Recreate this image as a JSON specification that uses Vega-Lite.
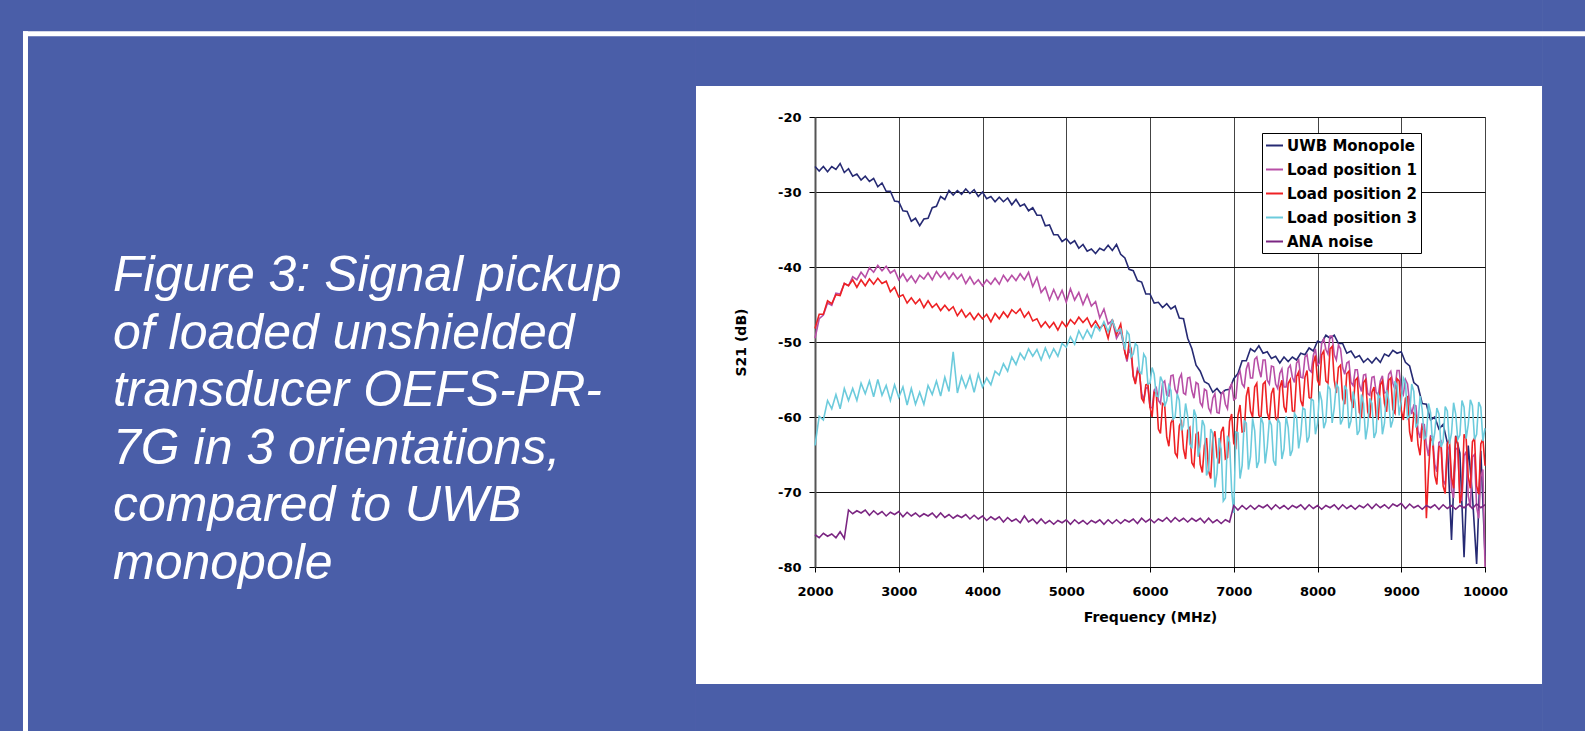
{
"$schema": "https://vega.github.io/schema/vega-lite/v6.json",
"width": 670,
"height": 450,
"autosize": {"type": "none"},
"padding": {"left": 815, "top": 117, "right": 100, "bottom": 164},
"background": "white",
"data": {"values": [{}]},
"datasets": {
"names": [{"k": "u", "name": "UWB Monopole"}, {"k": "p1", "name": "Load position 1"}, {"k": "p2", "name": "Load position 2"}, {"k": "p3", "name": "Load position 3"}, {"k": "n", "name": "ANA noise"}],
"spectra": [
{"f":2000,"u":-26.6,"p1":-49.5,"p2":-48.2,"p3":-63.8,"n":-75.7},
{"f":2050,"u":-27.2,"p1":-46.9,"p2":-46.3,"p3":-59.9,"n":-76.1},
{"f":2100,"u":-26.6,"p1":-46.4,"p2":-46.3,"p3":-60.4,"n":-75.5},
{"f":2150,"u":-27.3,"p1":-44.8,"p2":-44.5,"p3":-57.8,"n":-75.9},
{"f":2200,"u":-26.6,"p1":-45.1,"p2":-44.9,"p3":-58.9,"n":-75.6},
{"f":2250,"u":-27.0,"p1":-43.5,"p2":-43.7,"p3":-57.0,"n":-76.1},
{"f":2300,"u":-26.2,"p1":-43.6,"p2":-43.8,"p3":-58.9,"n":-75.3},
{"f":2350,"u":-27.4,"p1":-42.2,"p2":-42.2,"p3":-56.2,"n":-76.2},
{"f":2400,"u":-26.9,"p1":-42.5,"p2":-42.5,"p3":-57.8,"n":-72.4},
{"f":2450,"u":-27.9,"p1":-41.3,"p2":-41.7,"p3":-56.2,"n":-72.9},
{"f":2500,"u":-27.6,"p1":-41.7,"p2":-42.7,"p3":-57.8,"n":-72.5},
{"f":2550,"u":-28.4,"p1":-40.7,"p2":-41.7,"p3":-55.5,"n":-72.8},
{"f":2600,"u":-27.9,"p1":-41.4,"p2":-42.5,"p3":-56.9,"n":-72.4},
{"f":2650,"u":-28.6,"p1":-40.1,"p2":-41.6,"p3":-55.2,"n":-73.1},
{"f":2700,"u":-28.2,"p1":-40.7,"p2":-42.3,"p3":-57.3,"n":-72.5},
{"f":2750,"u":-29.3,"p1":-39.8,"p2":-41.5,"p3":-55.0,"n":-73.0},
{"f":2800,"u":-28.8,"p1":-40.5,"p2":-42.2,"p3":-57.1,"n":-72.6},
{"f":2850,"u":-29.9,"p1":-39.9,"p2":-41.9,"p3":-55.8,"n":-73.2},
{"f":2900,"u":-29.9,"p1":-40.8,"p2":-43.3,"p3":-57.8,"n":-72.7},
{"f":2950,"u":-31.2,"p1":-40.4,"p2":-42.7,"p3":-55.7,"n":-73.0},
{"f":3000,"u":-31.3,"p1":-41.7,"p2":-44.0,"p3":-57.4,"n":-72.6},
{"f":3050,"u":-32.5,"p1":-40.9,"p2":-43.7,"p3":-56.0,"n":-73.3},
{"f":3100,"u":-32.6,"p1":-41.9,"p2":-44.8,"p3":-58.4,"n":-72.7},
{"f":3150,"u":-33.9,"p1":-41.2,"p2":-44.1,"p3":-56.2,"n":-73.2},
{"f":3200,"u":-33.5,"p1":-42.1,"p2":-44.9,"p3":-58.3,"n":-72.8},
{"f":3250,"u":-34.5,"p1":-41.1,"p2":-44.3,"p3":-56.7,"n":-73.3},
{"f":3300,"u":-33.6,"p1":-41.6,"p2":-45.4,"p3":-58.3,"n":-72.9},
{"f":3350,"u":-33.5,"p1":-40.8,"p2":-44.5,"p3":-55.8,"n":-73.2},
{"f":3400,"u":-32.1,"p1":-41.7,"p2":-45.4,"p3":-57.0,"n":-72.8},
{"f":3450,"u":-31.9,"p1":-40.6,"p2":-44.9,"p3":-55.2,"n":-73.4},
{"f":3500,"u":-30.6,"p1":-41.4,"p2":-45.8,"p3":-57.2,"n":-72.8},
{"f":3550,"u":-31.0,"p1":-40.7,"p2":-45.1,"p3":-54.7,"n":-73.4},
{"f":3600,"u":-29.8,"p1":-41.6,"p2":-45.8,"p3":-56.6,"n":-73.0},
{"f":3650,"u":-30.4,"p1":-40.8,"p2":-45.3,"p3":-51.3,"n":-73.5},
{"f":3700,"u":-29.8,"p1":-41.6,"p2":-46.5,"p3":-56.8,"n":-73.1},
{"f":3750,"u":-30.3,"p1":-41.0,"p2":-45.7,"p3":-54.6,"n":-73.4},
{"f":3800,"u":-29.6,"p1":-42.2,"p2":-46.7,"p3":-56.1,"n":-73.0},
{"f":3850,"u":-30.2,"p1":-41.3,"p2":-46.1,"p3":-54.5,"n":-73.6},
{"f":3900,"u":-29.7,"p1":-42.3,"p2":-47.0,"p3":-56.7,"n":-73.1},
{"f":3950,"u":-30.6,"p1":-41.7,"p2":-46.2,"p3":-54.3,"n":-73.6},
{"f":4000,"u":-30.0,"p1":-42.5,"p2":-46.9,"p3":-56.0,"n":-73.2},
{"f":4050,"u":-30.9,"p1":-41.7,"p2":-46.3,"p3":-54.8,"n":-73.8},
{"f":4100,"u":-30.6,"p1":-42.3,"p2":-47.3,"p3":-55.7,"n":-73.3},
{"f":4150,"u":-31.3,"p1":-41.5,"p2":-46.2,"p3":-53.9,"n":-73.7},
{"f":4200,"u":-30.7,"p1":-42.3,"p2":-46.9,"p3":-54.4,"n":-73.3},
{"f":4250,"u":-31.3,"p1":-41.1,"p2":-46.0,"p3":-52.9,"n":-74.0},
{"f":4300,"u":-30.8,"p1":-41.9,"p2":-46.7,"p3":-53.9,"n":-73.4},
{"f":4350,"u":-31.7,"p1":-41.1,"p2":-45.7,"p3":-52.0,"n":-73.9},
{"f":4400,"u":-31.0,"p1":-41.8,"p2":-46.2,"p3":-53.0,"n":-73.6},
{"f":4450,"u":-31.9,"p1":-40.9,"p2":-45.6,"p3":-51.5,"n":-74.1},
{"f":4500,"u":-31.6,"p1":-41.7,"p2":-46.7,"p3":-52.3,"n":-73.2},
{"f":4550,"u":-32.5,"p1":-40.7,"p2":-46.0,"p3":-50.9,"n":-74.0},
{"f":4600,"u":-32.1,"p1":-42.6,"p2":-47.2,"p3":-51.9,"n":-73.6},
{"f":4650,"u":-33.1,"p1":-41.4,"p2":-46.9,"p3":-51.0,"n":-74.2},
{"f":4700,"u":-33.1,"p1":-43.4,"p2":-48.0,"p3":-52.4,"n":-73.6},
{"f":4750,"u":-34.5,"p1":-42.7,"p2":-47.3,"p3":-50.8,"n":-74.2},
{"f":4800,"u":-34.4,"p1":-44.4,"p2":-48.1,"p3":-52.1,"n":-73.8},
{"f":4850,"u":-35.7,"p1":-43.0,"p2":-47.4,"p3":-50.9,"n":-74.3},
{"f":4900,"u":-35.7,"p1":-44.3,"p2":-48.4,"p3":-51.9,"n":-73.8},
{"f":4950,"u":-36.6,"p1":-43.1,"p2":-47.3,"p3":-50.2,"n":-74.1},
{"f":5000,"u":-36.2,"p1":-44.7,"p2":-48.0,"p3":-50.7,"n":-73.7},
{"f":5050,"u":-36.9,"p1":-42.9,"p2":-47.0,"p3":-49.3,"n":-74.3},
{"f":5100,"u":-36.5,"p1":-44.4,"p2":-47.6,"p3":-50.3,"n":-73.7},
{"f":5150,"u":-37.5,"p1":-43.4,"p2":-46.7,"p3":-48.5,"n":-74.2},
{"f":5200,"u":-37.0,"p1":-45.0,"p2":-47.4,"p3":-49.6,"n":-73.8},
{"f":5250,"u":-37.9,"p1":-43.7,"p2":-46.8,"p3":-48.4,"n":-74.3},
{"f":5300,"u":-37.6,"p1":-45.2,"p2":-48.0,"p3":-49.4,"n":-73.8},
{"f":5350,"u":-38.2,"p1":-44.6,"p2":-47.2,"p3":-47.8,"n":-74.1},
{"f":5400,"u":-37.5,"p1":-46.8,"p2":-48.2,"p3":-48.5,"n":-73.7},
{"f":5450,"u":-37.8,"p1":-45.6,"p2":-47.6,"p3":-47.3,"n":-74.3},
{"f":5500,"u":-37.1,"p1":-47.6,"p2":-49.5,"p3":-48.6,"n":-73.7},
{"f":5550,"u":-37.8,"p1":-47.1,"p2":-47.0,"p3":-47.1,"n":-74.2},
{"f":5600,"u":-37.0,"p1":-49.5,"p2":-49.0,"p3":-48.6,"n":-73.7},
{"f":5650,"u":-38.3,"p1":-48.5,"p2":-47.6,"p3":-48.3,"n":-74.2},
{"f":5700,"u":-38.8,"p1":-51.3,"p2":-51.4,"p3":-51.0,"n":-73.7},
{"f":5750,"u":-40.3,"p1":-51.0,"p2":-50.2,"p3":-49.0,"n":-74.0},
{"f":5800,"u":-40.5,"p1":-54.6,"p2":-54.5,"p3":-51.6,"n":-73.6},
{"f":5850,"u":-41.8,"p1":-53.6,"p2":-53.9,"p3":-50.5,"n":-74.2},
{"f":5900,"u":-42.0,"p1":-56.8,"p2":-57.5,"p3":-54.2,"n":-73.5},
{"f":5950,"u":-43.6,"p1":-56.2,"p2":-55.7,"p3":-52.1,"n":-74.0},
{"f":6000,"u":-43.6,"p1":-58.7,"p2":-58.7,"p3":-55.5,"n":-73.6},
{"f":6050,"u":-44.8,"p1":-56.4,"p2":-56.7,"p3":-54.3,"n":-74.1},
{"f":6100,"u":-44.7,"p1":-57.8,"p2":-61.6,"p3":-57.3,"n":-73.6},
{"f":6150,"u":-45.4,"p1":-55.5,"p2":-58.2,"p3":-55.3,"n":-73.9},
{"f":6200,"u":-44.9,"p1":-57.1,"p2":-62.7,"p3":-57.8,"n":-73.4},
{"f":6250,"u":-45.6,"p1":-54.5,"p2":-60.8,"p3":-56.5,"n":-74.0},
{"f":6300,"u":-45.2,"p1":-56.3,"p2":-64.8,"p3":-60.0,"n":-73.4},
{"f":6350,"u":-46.8,"p1":-54.9,"p2":-61.2,"p3":-57.8,"n":-73.9},
{"f":6400,"u":-46.9,"p1":-56.8,"p2":-64.3,"p3":-61.1,"n":-73.5},
{"f":6450,"u":-49.5,"p1":-54.8,"p2":-61.8,"p3":-59.9,"n":-74.0},
{"f":6500,"u":-50.9,"p1":-56.5,"p2":-66.1,"p3":-64.2,"n":-73.5},
{"f":6550,"u":-53.1,"p1":-55.4,"p2":-62.3,"p3":-59.9,"n":-73.9},
{"f":6600,"u":-53.9,"p1":-58.1,"p2":-66.3,"p3":-63.9,"n":-73.5},
{"f":6650,"u":-55.3,"p1":-56.3,"p2":-63.8,"p3":-61.2,"n":-74.1},
{"f":6700,"u":-55.6,"p1":-58.8,"p2":-67.2,"p3":-67.0,"n":-73.5},
{"f":6750,"u":-56.7,"p1":-57.5,"p2":-62.9,"p3":-62.2,"n":-74.1},
{"f":6800,"u":-56.2,"p1":-59.4,"p2":-65.3,"p3":-67.5,"n":-73.7},
{"f":6850,"u":-56.9,"p1":-57.0,"p2":-62.0,"p3":-64.3,"n":-74.2},
{"f":6900,"u":-56.4,"p1":-58.3,"p2":-65.6,"p3":-70.8,"n":-73.7},
{"f":6950,"u":-56.3,"p1":-56.1,"p2":-60.6,"p3":-63.4,"n":-74.0},
{"f":7000,"u":-54.9,"p1":-57.7,"p2":-63.5,"p3":-72.8,"n":-71.8},
{"f":7050,"u":-54.2,"p1":-54.5,"p2":-59.8,"p3":-62.1,"n":-72.4},
{"f":7100,"u":-52.5,"p1":-55.6,"p2":-62.0,"p3":-66.5,"n":-71.8},
{"f":7150,"u":-52.5,"p1":-53.6,"p2":-57.2,"p3":-60.8,"n":-72.3},
{"f":7200,"u":-50.9,"p1":-54.8,"p2":-59.2,"p3":-65.3,"n":-71.8},
{"f":7250,"u":-51.3,"p1":-52.3,"p2":-56.0,"p3":-61.8,"n":-72.3},
{"f":7300,"u":-50.5,"p1":-53.6,"p2":-59.8,"p3":-65.9,"n":-71.8},
{"f":7350,"u":-51.5,"p1":-52.4,"p2":-55.6,"p3":-60.9,"n":-72.1},
{"f":7400,"u":-51.3,"p1":-55.1,"p2":-59.4,"p3":-64.0,"n":-71.7},
{"f":7450,"u":-52.2,"p1":-53.2,"p2":-56.9,"p3":-61.1,"n":-72.3},
{"f":7500,"u":-51.9,"p1":-55.6,"p2":-60.2,"p3":-66.5,"n":-71.7},
{"f":7550,"u":-52.8,"p1":-54.2,"p2":-56.1,"p3":-60.8,"n":-72.2},
{"f":7600,"u":-52.0,"p1":-56.0,"p2":-58.6,"p3":-64.3,"n":-71.8},
{"f":7650,"u":-52.6,"p1":-53.5,"p2":-55.5,"p3":-61.4,"n":-72.3},
{"f":7700,"u":-52.0,"p1":-54.7,"p2":-59.2,"p3":-64.4,"n":-71.8},
{"f":7750,"u":-52.4,"p1":-52.8,"p2":-54.6,"p3":-60.0,"n":-72.1},
{"f":7800,"u":-51.5,"p1":-54.7,"p2":-57.8,"p3":-62.4,"n":-71.7},
{"f":7850,"u":-51.7,"p1":-52.0,"p2":-54.7,"p3":-59.0,"n":-72.3},
{"f":7900,"u":-50.8,"p1":-53.7,"p2":-57.4,"p3":-62.6,"n":-71.7},
{"f":7950,"u":-51.2,"p1":-51.8,"p2":-52.9,"p3":-57.8,"n":-72.2},
{"f":8000,"u":-49.9,"p1":-53.1,"p2":-55.1,"p3":-60.9,"n":-71.8},
{"f":8050,"u":-50.1,"p1":-50.2,"p2":-51.7,"p3":-57.8,"n":-72.3},
{"f":8100,"u":-49.1,"p1":-51.0,"p2":-55.2,"p3":-60.6,"n":-71.8},
{"f":8150,"u":-49.5,"p1":-49.2,"p2":-50.9,"p3":-56.3,"n":-72.1},
{"f":8200,"u":-49.1,"p1":-51.7,"p2":-55.1,"p3":-58.8,"n":-71.7},
{"f":8250,"u":-50.2,"p1":-50.4,"p2":-53.4,"p3":-56.1,"n":-72.3},
{"f":8300,"u":-50.2,"p1":-53.4,"p2":-57.5,"p3":-60.3,"n":-71.7},
{"f":8350,"u":-51.5,"p1":-52.8,"p2":-54.2,"p3":-56.4,"n":-72.2},
{"f":8400,"u":-51.2,"p1":-55.4,"p2":-57.6,"p3":-60.5,"n":-71.8},
{"f":8450,"u":-52.1,"p1":-53.7,"p2":-55.1,"p3":-58.2,"n":-72.3},
{"f":8500,"u":-51.8,"p1":-55.7,"p2":-59.4,"p3":-61.8,"n":-71.8},
{"f":8550,"u":-52.7,"p1":-54.4,"p2":-55.4,"p3":-58.2,"n":-72.1},
{"f":8600,"u":-52.2,"p1":-56.9,"p2":-59.3,"p3":-61.2,"n":-71.6},
{"f":8650,"u":-52.8,"p1":-54.7,"p2":-56.7,"p3":-58.2,"n":-72.2},
{"f":8700,"u":-52.1,"p1":-56.7,"p2":-59.9,"p3":-62.0,"n":-71.6},
{"f":8750,"u":-52.7,"p1":-55.2,"p2":-55.7,"p3":-57.5,"n":-72.1},
{"f":8800,"u":-51.6,"p1":-56.8,"p2":-58.2,"p3":-60.8,"n":-71.7},
{"f":8850,"u":-51.9,"p1":-54.3,"p2":-55.1,"p3":-57.7,"n":-72.2},
{"f":8900,"u":-51.1,"p1":-55.5,"p2":-59.0,"p3":-60.4,"n":-71.6},
{"f":8950,"u":-51.5,"p1":-53.8,"p2":-54.9,"p3":-55.8,"n":-71.9},
{"f":9000,"u":-51.3,"p1":-56.3,"p2":-59.1,"p3":-57.9,"n":-71.5},
{"f":9050,"u":-52.7,"p1":-55.0,"p2":-57.5,"p3":-55.4,"n":-72.2},
{"f":9100,"u":-53.2,"p1":-58.2,"p2":-62.0,"p3":-59.8,"n":-71.6},
{"f":9150,"u":-55.4,"p1":-58.4,"p2":-59.5,"p3":-56.6,"n":-72.1},
{"f":9200,"u":-55.9,"p1":-61.8,"p2":-63.7,"p3":-60.8,"n":-71.8},
{"f":9250,"u":-58.2,"p1":-60.9,"p2":-61.3,"p3":-59.0,"n":-72.3},
{"f":9300,"u":-58.3,"p1":-63.7,"p2":-73.5,"p3":-62.6,"n":-71.8},
{"f":9350,"u":-60.4,"p1":-62.5,"p2":-62.8,"p3":-59.4,"n":-72.1},
{"f":9400,"u":-60.0,"p1":-66.3,"p2":-67.8,"p3":-62.1,"n":-71.7},
{"f":9450,"u":-61.6,"p1":-63.4,"p2":-64.0,"p3":-59.6,"n":-72.3},
{"f":9500,"u":-61.0,"p1":-68.5,"p2":-69.2,"p3":-63.3,"n":-71.7},
{"f":9550,"u":-63.4,"p1":-64.4,"p2":-63.6,"p3":-59.2,"n":-72.2},
{"f":9600,"u":-76.4,"p1":-69.7,"p2":-68.0,"p3":-62.2,"n":-71.8},
{"f":9650,"u":-62.5,"p1":-64.3,"p2":-62.6,"p3":-59.6,"n":-72.3},
{"f":9700,"u":-64.8,"p1":-70.5,"p2":-71.5,"p3":-62.4,"n":-71.8},
{"f":9750,"u":-78.7,"p1":-65.2,"p2":-62.3,"p3":-58.7,"n":-72.1},
{"f":9800,"u":-63.8,"p1":-70.5,"p2":-68.0,"p3":-61.0,"n":-71.6},
{"f":9850,"u":-70.5,"p1":-65.3,"p2":-63.3,"p3":-58.5,"n":-72.2},
{"f":9900,"u":-79.6,"p1":-72.0,"p2":-69.2,"p3":-62.3,"n":-71.6},
{"f":9950,"u":-64.5,"p1":-68.0,"p2":-63.6,"p3":-58.7,"n":-72.1},
{"f":10000,"u":-78.5,"p1":-80.0,"p2":-66.5,"p3":-61.5,"n":-71.7},
{"f":5725,"p1":-52.6,"p2":-52.3,"p3":-48.6},
{"f":5775,"p1":-51.6,"p2":-50.9,"p3":-52.0},
{"f":5825,"p1":-55.4,"p2":-55.6,"p3":-50.2},
{"f":5875,"p1":-54.3,"p2":-54.0,"p3":-54.0},
{"f":5925,"p1":-57.8,"p2":-58.0,"p3":-51.6},
{"f":5975,"p1":-56.0,"p2":-55.6,"p3":-55.6},
{"f":6025,"p1":-58.8,"p2":-60.0,"p3":-53.4},
{"f":6075,"p1":-56.1,"p2":-56.8,"p3":-57.2},
{"f":6125,"p1":-58.2,"p2":-62.2,"p3":-54.6},
{"f":6175,"p1":-55.2,"p2":-58.4,"p3":-58.6},
{"f":6225,"p1":-57.2,"p2":-63.9,"p3":-55.8},
{"f":6275,"p1":-54.4,"p2":-60.2,"p3":-60.3},
{"f":6325,"p1":-56.9,"p2":-65.3,"p3":-56.9},
{"f":6375,"p1":-54.3,"p2":-60.6,"p3":-61.8},
{"f":6425,"p1":-57.0,"p2":-65.6,"p3":-58.2},
{"f":6475,"p1":-54.7,"p2":-61.4,"p3":-63.6},
{"f":6525,"p1":-57.5,"p2":-66.6,"p3":-59.0},
{"f":6575,"p1":-55.6,"p2":-62.1,"p3":-65.3},
{"f":6625,"p1":-58.6,"p2":-67.4,"p3":-60.4},
{"f":6675,"p1":-56.5,"p2":-62.8,"p3":-67.8},
{"f":6725,"p1":-59.4,"p2":-68.2,"p3":-61.6},
{"f":6775,"p1":-56.9,"p2":-61.9,"p3":-69.4},
{"f":6825,"p1":-59.5,"p2":-66.2,"p3":-62.8},
{"f":6875,"p1":-56.6,"p2":-61.3,"p3":-71.2},
{"f":6925,"p1":-58.9,"p2":-65.4,"p3":-62.5},
{"f":6975,"p1":-55.6,"p2":-59.6,"p3":-69.8},
{"f":7025,"p1":-57.5,"p2":-64.0,"p3":-62.0},
{"f":7075,"p1":-53.9,"p2":-58.4,"p3":-68.2},
{"f":7125,"p1":-56.0,"p2":-61.9,"p3":-60.5},
{"f":7175,"p1":-52.7,"p2":-56.0,"p3":-67.0},
{"f":7225,"p1":-54.8,"p2":-60.0,"p3":-60.2},
{"f":7275,"p1":-52.0,"p2":-55.5,"p3":-66.8},
{"f":7325,"p1":-54.7,"p2":-60.1,"p3":-60.0},
{"f":7375,"p1":-52.4,"p2":-55.3,"p3":-66.2},
{"f":7425,"p1":-55.6,"p2":-60.4,"p3":-60.4},
{"f":7475,"p1":-53.3,"p2":-56.1,"p3":-65.8},
{"f":7525,"p1":-56.2,"p2":-60.5,"p3":-60.2},
{"f":7575,"p1":-53.6,"p2":-55.1,"p3":-65.6},
{"f":7625,"p1":-56.0,"p2":-59.4,"p3":-59.9},
{"f":7675,"p1":-53.1,"p2":-55.0,"p3":-65.2},
{"f":7725,"p1":-55.4,"p2":-59.3,"p3":-59.5},
{"f":7775,"p1":-52.4,"p2":-54.0,"p3":-64.2},
{"f":7825,"p1":-54.8,"p2":-58.6,"p3":-58.8},
{"f":7875,"p1":-51.7,"p2":-53.8,"p3":-63.4},
{"f":7925,"p1":-54.0,"p2":-57.6,"p3":-57.6},
{"f":7975,"p1":-50.9,"p2":-51.8,"p3":-62.3},
{"f":8025,"p1":-52.8,"p2":-55.8,"p3":-56.6},
{"f":8075,"p1":-49.6,"p2":-51.2,"p3":-61.5},
{"f":8125,"p1":-51.6,"p2":-55.5,"p3":-55.8},
{"f":8175,"p1":-49.2,"p2":-50.6,"p3":-60.8},
{"f":8225,"p1":-52.4,"p2":-56.8,"p3":-55.6},
{"f":8275,"p1":-50.9,"p2":-53.1,"p3":-61.0},
{"f":8325,"p1":-54.3,"p2":-58.3,"p3":-55.8},
{"f":8375,"p1":-52.6,"p2":-53.9,"p3":-61.5},
{"f":8425,"p1":-55.8,"p2":-58.8,"p3":-56.6},
{"f":8475,"p1":-53.7,"p2":-54.8,"p3":-62.4},
{"f":8525,"p1":-56.6,"p2":-59.9,"p3":-57.0},
{"f":8575,"p1":-54.3,"p2":-55.0,"p3":-63.0},
{"f":8625,"p1":-57.1,"p2":-60.1,"p3":-57.5},
{"f":8675,"p1":-54.6,"p2":-56.0,"p3":-62.8},
{"f":8725,"p1":-57.1,"p2":-60.2,"p3":-57.0},
{"f":8775,"p1":-54.5,"p2":-55.2,"p3":-62.3},
{"f":8825,"p1":-56.7,"p2":-59.3,"p3":-56.4},
{"f":8875,"p1":-53.9,"p2":-54.8,"p3":-61.4},
{"f":8925,"p1":-56.3,"p2":-59.5,"p3":-55.2},
{"f":8975,"p1":-53.8,"p2":-55.2,"p3":-59.8},
{"f":9025,"p1":-57.0,"p2":-60.4,"p3":-54.8},
{"f":9075,"p1":-55.6,"p2":-57.3,"p3":-60.2},
{"f":9125,"p1":-59.6,"p2":-63.3,"p3":-55.6},
{"f":9175,"p1":-58.5,"p2":-59.8,"p3":-61.4},
{"f":9225,"p1":-62.8,"p2":-65.1,"p3":-57.2},
{"f":9275,"p1":-61.0,"p2":-61.9,"p3":-62.9},
{"f":9325,"p1":-65.2,"p2":-67.5,"p3":-58.2},
{"f":9375,"p1":-62.6,"p2":-63.2,"p3":-63.8},
{"f":9425,"p1":-67.3,"p2":-69.0,"p3":-58.8},
{"f":9475,"p1":-63.2,"p2":-63.8,"p3":-64.0},
{"f":9525,"p1":-69.0,"p2":-70.2,"p3":-58.6},
{"f":9575,"p1":-63.9,"p2":-63.0,"p3":-63.6},
{"f":9625,"p1":-70.8,"p2":-69.5,"p3":-58.1},
{"f":9675,"p1":-64.1,"p2":-63.5,"p3":-63.0},
{"f":9725,"p1":-71.2,"p2":-70.0,"p3":-57.8},
{"f":9775,"p1":-64.6,"p2":-62.9,"p3":-62.9},
{"f":9825,"p1":-72.0,"p2":-69.5,"p3":-57.7},
{"f":9875,"p1":-65.0,"p2":-62.8,"p3":-63.0},
{"f":9925,"p1":-73.5,"p2":-70.3,"p3":-58.0},
{"f":9975,"p1":-67.0,"p2":-62.9,"p3":-63.2}
]
},
"layer": [
{"mark": {"type": "rect", "color": "#4A5EA8"}, "encoding": {"x": {"datum": -8000}, "x2": {"datum": 579}, "y": {"datum": 0}, "y2": {"datum": -110}}},
{"mark": {"type": "rect", "color": "#4A5EA8"}, "encoding": {"x": {"datum": 10681}, "x2": {"datum": 11800}, "y": {"datum": 0}, "y2": {"datum": -110}}},
{"mark": {"type": "rect", "color": "#4A5EA8"}, "encoding": {"x": {"datum": 579}, "x2": {"datum": 10681}, "y": {"datum": 0}, "y2": {"datum": -15.87}}},
{"mark": {"type": "rect", "color": "#4A5EA8"}, "encoding": {"x": {"datum": 579}, "x2": {"datum": 10681}, "y": {"datum": -95.6}, "y2": {"datum": -110}}},
{"mark": {"type": "rule", "color": "white", "strokeWidth": 5, "strokeCap": "square"}, "encoding": {"x": {"datum": -7427}, "x2": {"datum": 11800}, "y": {"datum": -8.89}}},
{"mark": {"type": "rule", "color": "white", "strokeWidth": 5, "strokeCap": "square"}, "encoding": {"x": {"datum": -7427}, "y": {"datum": -8.89}, "y2": {"datum": -110}}},
{"mark": {"type": "text", "align": "left", "baseline": "alphabetic", "font": "Liberation Sans", "fontStyle": "italic", "fontWeight": "normal", "fontSize": 50, "lineHeight": 57.5, "color": "white"},
 "encoding": {"x": {"datum": -6382}, "y": {"datum": -43.2}, "text": {"value": ["Figure 3: Signal pickup", "of loaded unshielded", "transducer OEFS-PR-", "7G in 3 orientations,", "compared to UWB", "monopole"]}}},
{"data": {"name": "spectra"},
 "transform": [
  {"fold": ["u", "p1", "p2", "p3", "n"], "as": ["key", "dB"]},
  {"filter": "isValid(datum.dB)"},
  {"lookup": "key", "from": {"data": {"name": "names"}, "key": "k", "fields": ["name"]}}
 ],
 "mark": {"type": "line", "strokeWidth": 1.6},
 "encoding": {
  "x": {"field": "f", "type": "quantitative", "title": "Frequency (MHz)",
        "scale": {"domain": [2000, 10000], "nice": false, "zero": false},
        "axis": {"values": [2000, 3000, 4000, 5000, 6000, 7000, 8000, 9000, 10000], "labelExpr": "'' + datum.value", "labelFlush": false, "tickSize": 5, "labelPadding": 13, "titlePadding": 12, "domainColor": "#000", "gridColor": "#444"}},
  "y": {"field": "dB", "type": "quantitative", "title": "S21 (dB)",
        "scale": {"domain": [-80, -20], "nice": false, "zero": false},
        "axis": {"values": [-80, -70, -60, -50, -40, -30, -20], "labelExpr": "'' + datum.value", "labelFlush": false, "tickSize": 6, "labelPadding": 8, "titlePadding": 29, "domainColor": "#555", "domainWidth": 2, "gridColor": "#111"}},
  "color": {"field": "name", "type": "nominal",
        "scale": {"domain": ["UWB Monopole", "Load position 1", "Load position 2", "Load position 3", "ANA noise"], "range": ["#262A73", "#B84FA6", "#EE2124", "#6CCBDC", "#7B2682"]},
        "legend": {"title": null, "orient": "none", "legendX": 447, "legendY": 16}}
 }
}
],
"config": {
 "view": {"stroke": "#888", "strokeWidth": 1},
 "axis": {"labelFont": "DejaVu Sans", "labelFontWeight": "bold", "labelFontSize": 13, "labelColor": "#000", "titleFont": "DejaVu Sans", "titleFontWeight": "bold", "titleFontSize": 14, "titleColor": "#000", "tickColor": "#000", "grid": true, "gridWidth": 1},
 "legend": {"strokeColor": "#000", "fillColor": "white", "padding": 3, "labelFont": "DejaVu Sans", "labelFontWeight": "bold", "labelFontSize": 15, "labelColor": "#000", "symbolType": "stroke", "symbolSize": 289, "symbolStrokeWidth": 2, "rowPadding": 6, "labelOffset": 3, "labelLimit": 300}
}
}
